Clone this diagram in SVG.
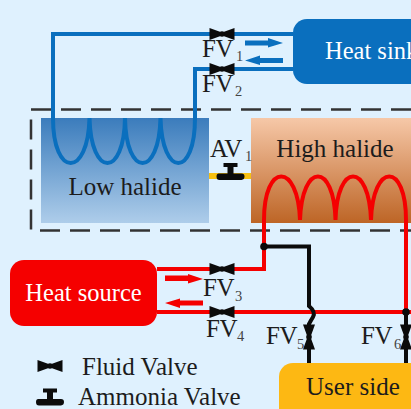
<svg xmlns="http://www.w3.org/2000/svg" width="411" height="409" viewBox="0 0 411 409">
<style>
text{font-family:"Liberation Serif","Times New Roman",serif;fill:#1c1c1c}
.big{font-size:25px}
.lbl{font-size:25px;letter-spacing:-0.500px}
.sub{font-size:14.500px;fill:#444}
.w{fill:#fff;font-size:24.500px}
.blue{fill:none;stroke:#0a6fbe;stroke-width:4}
.red{fill:none;stroke:#f50000;stroke-width:4}
.blk{fill:none;stroke:#0b0b0b;stroke-width:4}
.dash{fill:none;stroke:#333;stroke-width:2.500;stroke-dasharray:20 10}
</style>
<defs>
<linearGradient id="cold" x1="0" y1="0" x2="0" y2="1"><stop offset="0" stop-color="#3b7cbc"/><stop offset="1" stop-color="#aecdea"/></linearGradient>
<linearGradient id="hot" x1="0" y1="0" x2="0" y2="1"><stop offset="0" stop-color="#f6c8a8"/><stop offset="1" stop-color="#bd6526"/></linearGradient>
<g id="fv"><path d="M-12.500-6L0-1.500 12.500-6V6L0 1.500-12.500 6Z" fill="#0b0b0b"/><circle r="2.800" fill="#0b0b0b"/></g>
<g id="av"><path d="M-7-8.500H7V-4.500H3V2H11Q14 2 14 5T11 8.500H-11Q-14 8.500-14 5T-11 2H-3V-4.500H-7Z" fill="#0b0b0b"/></g>
</defs>
<rect width="411" height="409" fill="#dff1fe"/>
<g id="enclosure"><path class="dash" d="M411 109.500H31V230.500H411"/></g>
<g id="low-halide"><rect x="41" y="118" width="168" height="105" fill="url(#cold)"/><text class="big" x="125" y="195" text-anchor="middle">Low halide</text></g>
<g id="high-halide"><rect x="251" y="118" width="160" height="105" fill="url(#hot)"/><text class="big" x="335" y="157" text-anchor="middle">High halide</text></g>
<g id="connectors">
<path class="blue" d="M293 34H53V118C53 178 88 178 89.500 118C91 178 124 178 125 118C126 178 159 178 160.500 118C162 178 195 178 195 118V69H293"/>
<path d="M209 176H251" fill="none" stroke="#f7c012" stroke-width="6"/>
<path class="red" d="M157 269H264V220C264 162 298 162 300 220C302 162 334 162 335.500 220C337 162 369 162 371 220C373 162 406 162 406 220V312"/>
<path class="red" d="M157 312H411"/>
<path class="blk" d="M264 246.500H309V306Q316 312 313 317Q310 322 309 324V363"/>
<path class="blk" d="M406 312V363"/>
<circle cx="264" cy="246.500" r="3.800" fill="#0b0b0b"/>
<circle cx="406" cy="312" r="3.800" fill="#0b0b0b"/>
<g fill="#0a6fbe"><path d="M245 40.500H268V38L283 43 268 47.500V45.500H245Z"/><path d="M283 58H260V55.500L245 60.500 260 65V63H283Z"/></g>
<g fill="#f50000"><path d="M165 275.500H188V274L203 279 188 283.500V281H165Z"/><path d="M203 300.500H180V298.500L165 303 180 308V305.500H203Z"/></g>
</g>
<g id="heat-sink"><rect x="293" y="19" width="140" height="65" rx="14" fill="#0a6fbe"/><text class="w" x="325" y="59">Heat sink</text></g>
<g id="heat-source"><rect x="10" y="260" width="147" height="66" rx="14" fill="#f50000"/><text class="w" x="83.500" y="301" text-anchor="middle">Heat source</text></g>
<g id="user-side"><rect x="279" y="363" width="150" height="66" rx="14" fill="#fdb813"/><text class="big" x="306" y="395">User side</text></g>
<g id="fv1"><use href="#fv" x="222" y="34"/><text class="lbl" x="202" y="57">FV</text><text class="sub" x="236" y="61">1</text></g>
<g id="fv2"><use href="#fv" x="222" y="69"/><text class="lbl" x="202" y="92">FV</text><text class="sub" x="235" y="96">2</text></g>
<g id="fv3"><use href="#fv" x="222" y="269"/><text class="lbl" x="203" y="296">FV</text><text class="sub" x="235" y="301">3</text></g>
<g id="fv4"><use href="#fv" x="222" y="312"/><text class="lbl" x="206" y="337">FV</text><text class="sub" x="237" y="341">4</text></g>
<g id="fv5"><use href="#fv" transform="translate(309 337) rotate(90)"/><text class="lbl" x="266" y="344">FV</text><text class="sub" x="297" y="349">5</text></g>
<g id="fv6"><use href="#fv" transform="translate(406 337) rotate(90)"/><text class="lbl" x="361" y="344">FV</text><text class="sub" x="394" y="349">6</text></g>
<g id="av1"><use href="#av" x="230.500" y="171.500"/><text class="big" x="210" y="157" letter-spacing="-0.500px">AV</text><text class="sub" x="245" y="161">1</text></g>
<g id="legend"><use href="#fv" x="50" y="366"/><text class="big" x="82" y="375">Fluid Valve</text><use href="#av" x="50" y="397"/><text class="big" x="78" y="405">Ammonia Valve</text></g>
</svg>
